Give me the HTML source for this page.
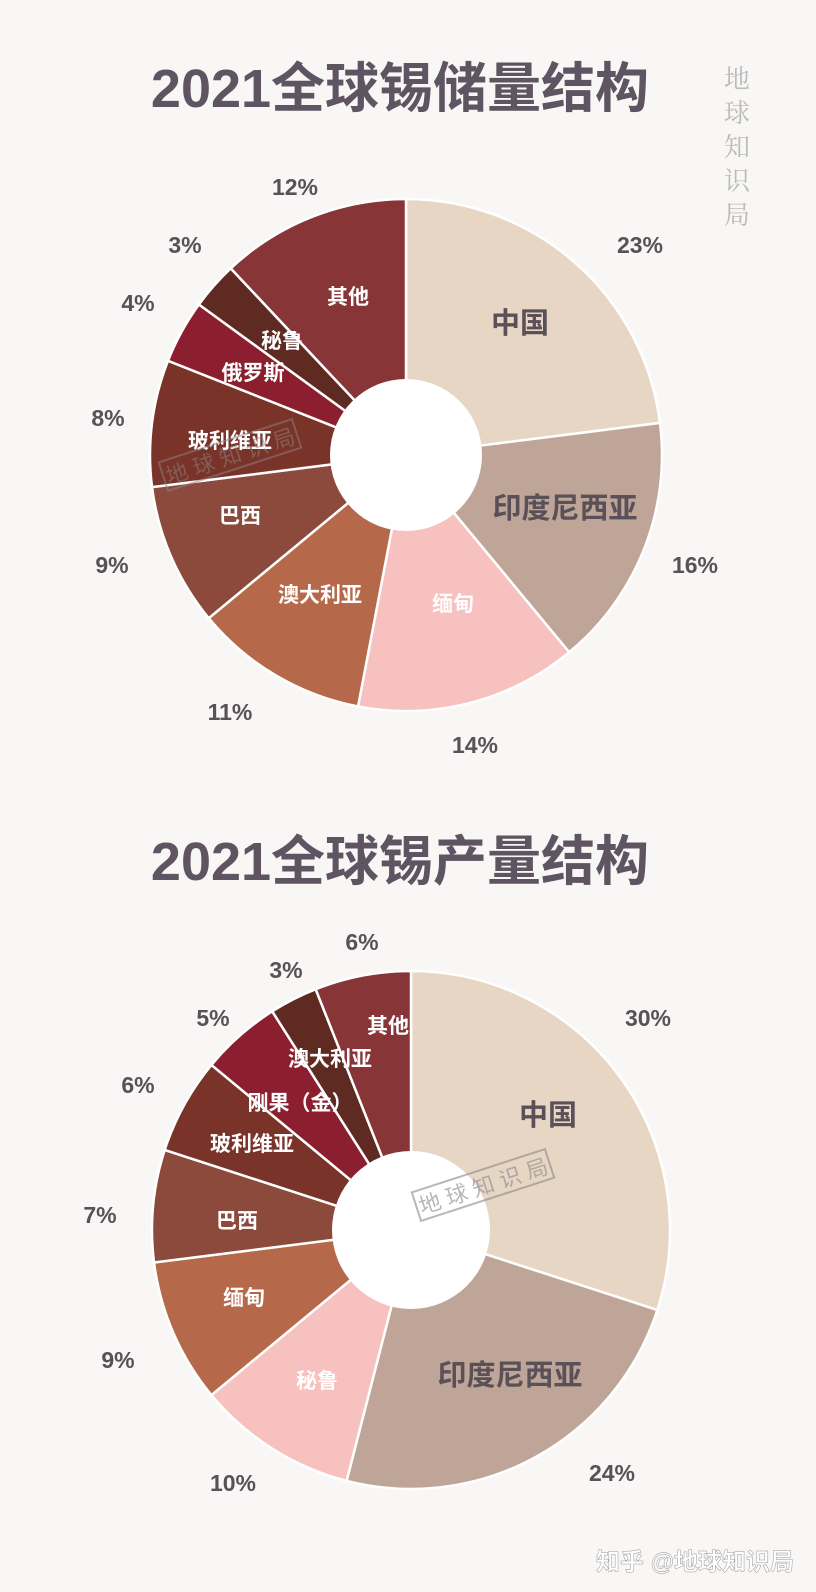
<!DOCTYPE html>
<html><head><meta charset="utf-8">
<style>
html,body{margin:0;padding:0;background:#f8f7f5;}
body{width:816px;height:1592px;position:relative;overflow:hidden;font-family:"Liberation Sans","Noto Sans CJK SC",sans-serif;}
svg{position:absolute;left:0;top:0;}
</style></head>
<body>
<svg id="s" width="816" height="1592" xmlns="http://www.w3.org/2000/svg" font-family="Liberation Sans, Noto Sans CJK SC, sans-serif">
<rect width="816" height="1592" fill="#f8f7f5"/>
<g id="p1"></g><g id="p2"></g>
<circle cx="406" cy="455" r="76" fill="#fff"/>
<circle cx="411" cy="1230" r="79" fill="#fff"/>
<text x="400" y="107" font-size="54" font-weight="bold" fill="#5f5461" text-anchor="middle">2021全球锡储量结构</text>
<text x="400" y="880" font-size="54" font-weight="bold" fill="#5f5461" text-anchor="middle">2021全球锡产量结构</text>
<g font-size="26" fill="#bbb" text-anchor="middle" font-family="Noto Serif CJK SC, serif">
<text x="737" y="88">地</text><text x="737" y="122">球</text><text x="737" y="156">知</text><text x="737" y="190">识</text><text x="737" y="224">局</text></g>
<text x="695" y="1570" font-size="24" fill="#fff" stroke="#999" stroke-width="0.5" text-anchor="middle" font-weight="bold">知乎 @地球知识局</text>
<g font-size="23" font-weight="bold" fill="#5a5058" text-anchor="middle">
<text x="295" y="195">12%</text><text x="640" y="253">23%</text><text x="185" y="253">3%</text><text x="138" y="311">4%</text><text x="108" y="426">8%</text><text x="112" y="573">9%</text><text x="695" y="573">16%</text><text x="230" y="720">11%</text><text x="475" y="753">14%</text>
<text x="362" y="950">6%</text><text x="648" y="1026">30%</text><text x="286" y="978">3%</text><text x="213" y="1026">5%</text><text x="138" y="1093">6%</text><text x="100" y="1223">7%</text><text x="118" y="1368">9%</text><text x="233" y="1491">10%</text><text x="612" y="1481">24%</text>
</g>
<g font-size="21" font-weight="bold" fill="#fff" text-anchor="middle">
<text x="348" y="304">其他</text><text x="282" y="348">秘鲁</text><text x="253" y="380">俄罗斯</text><text x="230" y="448">玻利维亚</text><text x="240" y="523">巴西</text><text x="320" y="602">澳大利亚</text><text x="453" y="611">缅甸</text>
<text x="388" y="1033">其他</text><text x="330" y="1066">澳大利亚</text><text x="300" y="1110">刚果（金）</text><text x="252" y="1151">玻利维亚</text><text x="237" y="1228">巴西</text><text x="244" y="1305">缅甸</text><text x="317" y="1388">秘鲁</text>
</g>
<g font-size="29" font-weight="bold" fill="#5a5058" text-anchor="middle">
<text x="520" y="333">中国</text><text x="565" y="518">印度尼西亚</text>
<text x="548" y="1125">中国</text><text x="510" y="1385">印度尼西亚</text>
</g>
<g transform="rotate(-18 230 455)" opacity="0.5"><rect x="160" y="440" width="140" height="30" fill="none" stroke="#888" stroke-width="2"/><text x="230" y="464" font-size="22" fill="#888" text-anchor="middle">地 球 知 识 局</text></g>
<g transform="rotate(-18 483 1185)" opacity="0.6"><rect x="413" y="1170" width="140" height="30" fill="none" stroke="#888" stroke-width="2"/><text x="483" y="1194" font-size="22" fill="#888" text-anchor="middle">地 球 知 识 局</text></g>
</svg>
<script>
var cols1=["#e8d6c5","#bea597","#f6c1bf","#b5694a","#8b4a3c","#7a3329","#8b1f2f","#5e2a22","#873537"];
var v1=[23,16,14,11,9,8,4,3,12];
var cols2=["#e8d6c5","#bea597","#f6c1bf","#b5694a","#8b4a3c","#7a3329","#8b1f2f","#5e2a22","#873537"];
var v2=[30,24,10,9,7,6,5,3,6];
function pie(id,cx,cy,r,vals,cols){
 var g=document.getElementById(id),a=0,h="";
 for(var i=0;i<vals.length;i++){
  var a0=a/100*2*Math.PI,a1=(a+vals[i])/100*2*Math.PI;a+=vals[i];
  var x0=cx+r*Math.sin(a0),y0=cy-r*Math.cos(a0),x1=cx+r*Math.sin(a1),y1=cy-r*Math.cos(a1);
  var lg=(a1-a0)>Math.PI?1:0;
  h+='<path d="M'+cx+','+cy+' L'+x0+','+y0+' A'+r+','+r+' 0 '+lg+' 1 '+x1+','+y1+' Z" fill="'+cols[i]+'" stroke="#fff" stroke-width="2.5"/>';
 }
 g.innerHTML=h;
}
pie("p1",406,455,256,v1,cols1);
pie("p2",411,1230,259,v2,cols2);
</script>
</body></html>
